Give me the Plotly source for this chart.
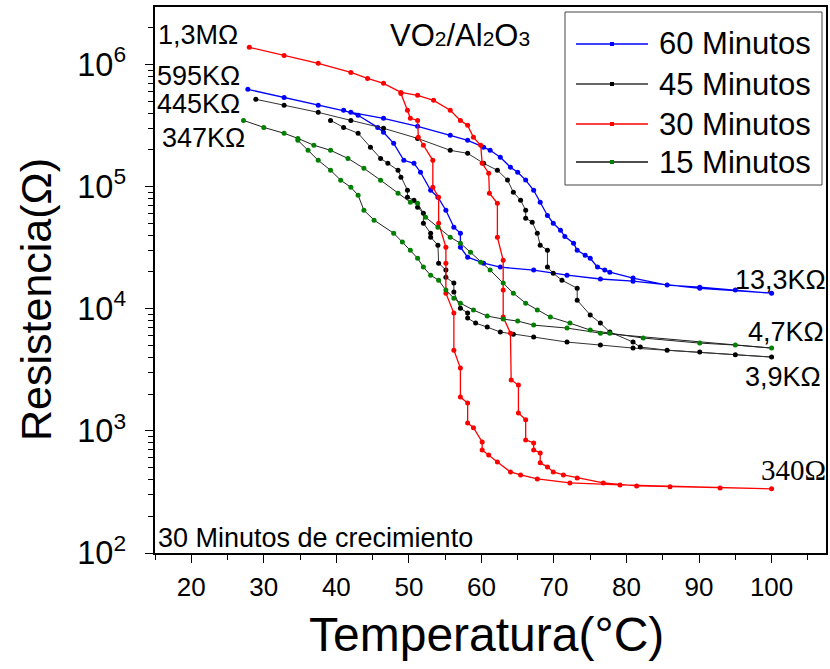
import plotly.graph_objects as go

# ---------------- data ----------------
# Each series is a hysteresis loop: heating branch (upper), then cooling branch (lower)
t60 = [27.8, 32.8, 37.5, 42.0, 46.5, 51.2, 55.7, 58.1, 60.3, 61.2, 62.6, 64.0, 65.0, 66.1, 67.2, 68.1,
       69.1, 69.9, 70.9, 71.5, 72.7, 73.2, 74.3, 75.0, 76.0, 77.0, 77.7, 80.9, 85.6, 90.1, 95.0, 100.0,
       90.1, 80.9, 76.4, 71.8, 67.2, 62.6, 60.3, 58.1, 57.1, 57.1, 56.2, 55.1, 54.0, 53.0, 51.6, 50.7,
       49.3, 47.9, 46.5, 45.7, 43.0, 41.0]
r60 = [625e3, 537e3, 462e3, 405e3, 362e3, 311e3, 263e3, 239e3, 210e3, 198e3, 174e3, 144e3, 131e3, 113e3,
       93.3e3, 74.5e3, 58e3, 50.1e3, 43.9e3, 39e3, 34.4e3, 30.1e3, 27.4e3, 25.9e3, 21.9e3, 20.7e3, 19.9e3,
       17.8e3, 15.6e3, 15.0e3, 14.2e3, 13.4e3,
       14.7e3, 16.8e3, 17.5e3, 18.8e3, 20.7e3, 21.9e3, 23.6e3, 26.4e3, 31.9e3, 41.5e3, 46.5e3, 64.0e3,
       81.8e3, 93.3e3, 131e3, 155e3, 164e3, 226e3, 278e3, 305e3, 383e3, 421e3]

t45 = [28.9, 32.8, 37.5, 42.0, 46.5, 51.2, 55.7, 58.1, 60.3, 62.2, 63.6, 64.4, 65.4, 66.1, 66.1, 67.0,
       67.7, 68.1, 69.1, 69.1, 69.9, 71.1, 73.2, 73.2, 75.0, 76.4, 77.7, 80.9, 81.9, 85.6, 90.1, 95.0, 100.0,
       80.9, 76.4, 71.8, 67.2, 64.4, 62.6, 60.8, 59.2, 58.1, 58.1, 57.1, 56.2, 56.2, 55.1, 55.1, 54.1, 54.0,
       53.0, 53.0, 52.0, 52.0, 51.2, 50.7, 49.8, 49.8, 48.9, 48.5, 47.1, 46.1, 44.7, 43.0, 41.0, 39.2]
r45 = [518e3, 462e3, 405e3, 348e3, 300e3, 248e3, 198e3, 187e3, 155e3, 136e3, 113e3, 89.8e3, 77.3e3,
       64.0e3, 55.1e3, 51.1e3, 41.5e3, 33.1e3, 30.1e3, 21.9e3, 19.5e3, 17.1e3, 14.7e3, 11.75e3, 8.87e3,
       7.62e3, 6.44e3, 5.33e3, 4.85e3, 4.58e3, 4.42e3, 4.2e3, 4.02e3,
       4.76e3, 5.04e3, 5.33e3, 5.86e3, 6.19e3, 6.44e3, 7.07e3, 7.62e3, 8.38e3, 9.21e3, 10.1e3, 13.7e3,
       16.2e3, 18.1e3, 20.7e3, 23.6e3, 33.1e3, 38.5e3, 41.5e3, 50.1e3, 60.5e3, 67.7e3, 77.3e3, 81.8e3,
       93.3e3, 119e3, 136e3, 155e3, 170e3, 210e3, 273e3, 305e3, 348e3]

t30 = [28.0, 32.8, 37.5, 42.0, 44.3, 46.5, 48.9, 51.2, 53.4, 55.7, 57.1, 58.1, 58.9, 59.9, 60.1, 61.0,
       61.1, 62.2, 62.2, 63.0, 63.0, 63.0, 64.0, 64.1, 65.1, 65.1, 66.1, 66.1, 67.2, 67.2, 68.1, 68.1,
       69.1, 69.9, 71.3, 73.2, 76.8, 81.4, 86.0, 92.9, 100.0,
       79.1, 72.2, 67.7, 65.4, 64.0, 62.2, 61.0, 60.1, 60.1, 58.9, 58.1, 58.1, 57.1, 57.1, 56.2, 56.2,
       55.1, 55.1, 55.1, 54.1, 54.1, 53.3, 53.3, 52.0, 51.3, 51.2, 50.2, 49.8, 48.9]
r30 = [1.38e6, 1.185e6, 1.02e6, 860e3, 768e3, 700e3, 590e3, 558e3, 508e3, 421e3, 348e3, 317e3, 253e3,
       218e3, 155e3, 128.5e3, 88.1e3, 73.0e3, 38.5e3, 24.9e3, 14.2e3, 8.54e3, 6.31e3, 2.61e3, 2.37e3,
       1.40e3, 1.23e3, 843, 796, 698, 659, 547, 507, 461, 436, 412, 375, 354, 348, 341, 335,
       361, 375, 404, 436, 461, 557, 635, 698, 811, 1.06e3, 1.16e3, 1.69e3, 1.89e3, 3.27e3, 4.58e3,
       9.21e3, 13.4e3, 23.6e3, 31.9e3, 50.1e3, 81.8e3, 98.7e3, 164e3, 218e3, 253e3, 348e3, 362e3,
       421e3, 579e3]

t15 = [27.2, 30.0, 32.8, 34.7, 36.9, 39.2, 41.6, 43.8, 46.1, 48.5, 50.2, 51.2, 52.3, 54.0, 55.7, 57.1,
       58.5, 59.9, 61.2, 63.0, 64.4, 66.1, 67.7, 69.5, 72.2, 75.0, 77.7, 82.3, 90.1, 95.0, 100.0,
       76.4, 71.8, 67.2, 65.0, 63.0, 60.8, 58.9, 57.1, 56.2, 55.1, 54.1, 53.0, 52.0, 51.2, 50.2, 49.1,
       47.9, 45.2, 43.8, 43.0, 42.0, 40.6, 39.2, 37.5, 36.1, 34.7]
r15 = [348e3, 305e3, 273e3, 248e3, 218e3, 198e3, 170e3, 141e3, 112.7e3, 88.1e3, 74.5e3, 73.0e3, 56.1e3,
       46.5e3, 38.5e3, 34.4e3, 29.0e3, 24.0e3, 20.7e3, 16.2e3, 13.4e3, 11.1e3, 9.75e3, 8.54e3, 7.62e3,
       6.68e3, 6.31e3, 5.75e3, 5.23e3, 5.04e3, 4.76e3,
       6.31e3, 6.94e3, 7.34e3, 7.92e3, 8.22e3, 8.71e3, 9.75e3, 11.1e3, 12.2e3, 14.2e3, 17.1e3, 18.8e3,
       21.9e3, 25.9e3, 30.1e3, 35.1e3, 41.5e3, 53.1e3, 64.0e3, 84.9e3, 98.7e3, 112.7e3, 136e3, 164e3,
       198e3, 239e3]

series_names = ["60 Minutos", "45 Minutos", "30 Minutos", "15 Minutos"]
value_labels = ["1,3MΩ", "595KΩ", "445KΩ", "347KΩ", "13,3KΩ", "4,7KΩ", "3,9KΩ", "340Ω"]
x_ticks = [20, 30, 40, 50, 60, 70, 80, 90, 100]

# ---------------- figure ----------------
W, H = 830, 669
L, R, T, B = 155, 4, 7, 116
FONT = "Liberation Sans, Arial, sans-serif"

def px(x):
    return (x - L) / (W - L - R)

def py(y):
    return (H - B - y) / (H - B - T)

fig = go.Figure()
styles = [
    (t60, r60, "#0000ff", "#0000ff", 1.3),
    (t45, r45, "#000000", "#333333", 1.0),
    (t30, r30, "#ff0000", "#ff0000", 1.3),
    (t15, r15, "#008000", "#222222", 1.0),
]
for (tx, ry, mcol, lcol, lw), name in zip(styles, series_names):
    fig.add_trace(go.Scatter(
        x=tx, y=ry, mode="lines+markers", name=name, showlegend=False,
        line=dict(color=lcol, width=lw),
        marker=dict(color=mcol, size=5, line=dict(width=0)),
    ))

ann = []
def add_text(text, x, y, size, xanchor="center", family=FONT, angle=0):
    ann.append(dict(text=text, x=px(x), y=py(y), xref="paper", yref="paper",
                    showarrow=False, xanchor=xanchor, yanchor="middle", textangle=angle,
                    font=dict(size=size, family=family, color="black")))

add_text(value_labels[0], 198, 35, 27)
add_text(value_labels[1], 198, 76, 27)
add_text(value_labels[2], 198, 104, 27)
add_text(value_labels[3], 203, 138, 27)
add_text('VO<span style="font-size:21px">2</span>/Al<span style="font-size:21px">2</span>O<span style="font-size:21px">3</span>',
         460, 35, 31)
add_text(value_labels[4], 828, 280, 27, xanchor="right")
add_text(value_labels[5], 826, 332, 27, xanchor="right")
add_text(value_labels[6], 823, 377, 27, xanchor="right")
add_text(value_labels[7], 828, 470, 29, xanchor="right", family="Liberation Serif, Times New Roman, serif")
add_text("30 Minutos de crecimiento", 156, 538, 27, xanchor="left")
add_text("Resistencia(Ω)", 36, 300, 43, angle=-90)
add_text("Temperatura(°C)", 486, 634, 48)

# manual legend (box, line samples, markers, labels)
shapes = [dict(type="rect", xref="paper", yref="paper", x0=px(565), x1=px(822), y0=py(185), y1=py(12),
               line=dict(color="#444444", width=1), fillcolor="white", layer="above")]
leg_rows = [44, 84, 124, 162]
leg_line_cols = ["#0000ff", "#333333", "#ff0000", "#111111"]
leg_mark_cols = ["#0000ff", "#000000", "#ff0000", "#008000"]
for yy, lc, mc, name in zip(leg_rows, leg_line_cols, leg_mark_cols, series_names):
    shapes.append(dict(type="line", xref="paper", yref="paper", x0=px(576), x1=px(648), y0=py(yy), y1=py(yy),
                       line=dict(color=lc, width=1.4), layer="above"))
    shapes.append(dict(type="rect", xref="paper", yref="paper", x0=px(610), x1=px(614), y0=py(yy + 2), y1=py(yy - 2),
                       line=dict(width=0), fillcolor=mc, layer="above"))
    add_text(name, 657, yy, 31, xanchor="left")

fig.update_layout(
    width=W, height=H,
    margin=dict(l=L, r=R, t=T, b=B, pad=0, autoexpand=False),
    paper_bgcolor="white", plot_bgcolor="white",
    font=dict(family=FONT, color="black"),
    showlegend=False,
    annotations=ann,
    shapes=shapes,
)
fig.update_xaxes(
    range=[15, 107.5], showgrid=False, zeroline=False, automargin=False,
    showline=True, linecolor="black", linewidth=1.5, mirror=True,
    ticks="outside", ticklen=8, tickwidth=1.2, tickcolor="black",
    tickvals=x_ticks, tickfont=dict(size=26), ticklabelstandoff=2,
    minor=dict(ticks="outside", dtick=5, tick0=15, ticklen=5, tickwidth=1.2, tickcolor="black"),
)
fig.update_yaxes(
    type="log", range=[2, 6.47], showgrid=False, zeroline=False, automargin=False,
    showline=True, linecolor="black", linewidth=1.5, mirror=True,
    ticks="outside", ticklen=8, tickwidth=1.2, tickcolor="black",
    dtick=1, exponentformat="power", showexponent="all",
    tickfont=dict(size=26), ticklabelstandoff=14,
    minor=dict(ticks="outside", dtick="D1", ticklen=5, tickwidth=1, tickcolor="black"),
)

fig.write_html("out.html", config={"displayModeBar": False},
               post_script="document.body.style.margin='0';document.body.style.overflow='hidden';")
